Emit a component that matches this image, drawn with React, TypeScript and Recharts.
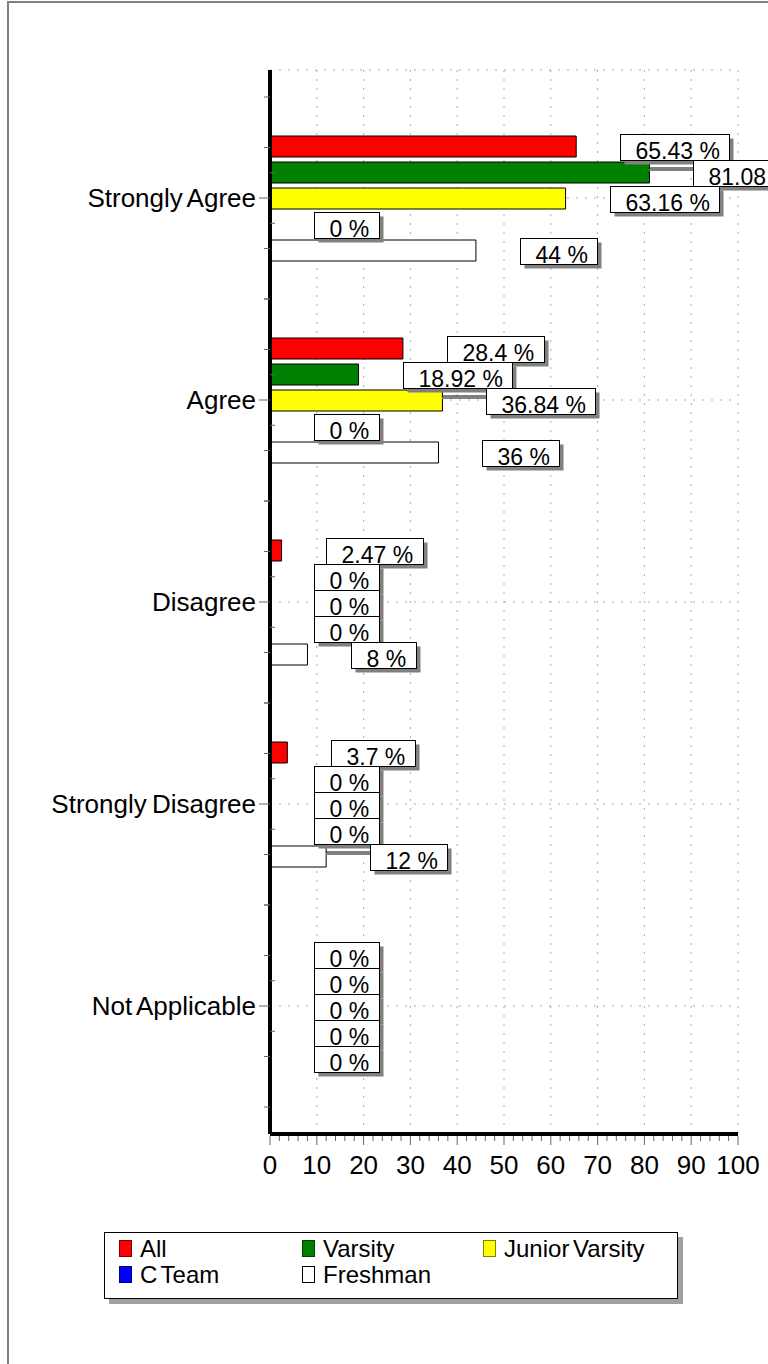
import { BarChart, Bar, XAxis, YAxis, CartesianGrid, LabelList } from 'recharts';

const categories = ['Strongly Agree', 'Agree', 'Disagree', 'Strongly Disagree', 'Not Applicable'];
const allValues = [65.43, 28.4, 2.47, 3.7, 0];
const varsityValues = [81.08, 18.92, 0, 0, 0];
const juniorVarsityValues = [63.16, 36.84, 0, 0, 0];
const cTeamValues = [0, 0, 0, 0, 0];
const freshmanValues = [44, 36, 8, 12, 0];
const xTickLabels = [0, 10, 20, 30, 40, 50, 60, 70, 80, 90, 100];
const xDomain = [0, 100];

// labels that got a leader line from the bar end in the original
const leaderLabels = ['Varsity|Strongly Agree', 'Junior Varsity|Agree', 'Freshman|Strongly Disagree'];

const series = [
  { key: 'All', label: 'All', values: allValues, color: '#ff0000', edge: '#800000' },
  { key: 'Varsity', label: 'Varsity', values: varsityValues, color: '#008000', edge: '#004000' },
  { key: 'Junior Varsity', label: 'Junior Varsity', values: juniorVarsityValues, color: '#ffff00', edge: '#808000' },
  { key: 'C Team', label: 'C Team', values: cTeamValues, color: '#0000ff', edge: '#000080' },
  { key: 'Freshman', label: 'Freshman', values: freshmanValues, color: '#ffffff', edge: '#000000' },
];

const data = categories.map((name, i) => {
  const row: Record<string, any> = { name };
  series.forEach((s) => (row[s.key] = s.values[i]));
  return row;
});

// minor ticks every 2 units between the labelled ones
const xAxisTicks = xTickLabels.flatMap((t, i) => (i === 0 ? [t] : [t - 8, t - 6, t - 4, t - 2, t]));

const FONT = "'Liberation Sans', Arial, sans-serif";
const LABEL_FONT = `23px ${FONT}`;

let ctx: CanvasRenderingContext2D | null = null;
function textWidth(s: string, font: string) {
  if (!ctx) ctx = document.createElement('canvas').getContext('2d');
  if (!ctx) return s.length * 12;
  ctx.font = font;
  return ctx.measureText(s).width;
}

// grid only on the labelled ticks, not on the minor ones
const gridX = ({ xAxis, offset }: any) => {
  const sc = xAxis && xAxis.scale;
  if (typeof sc === 'function') return xTickLabels.map((v) => sc(v));
  if (sc && typeof sc.map === 'function') return xTickLabels.map((v) => sc.map(v));
  const left = offset ? offset.left : 270;
  const width = offset ? offset.width : 468;
  return xTickLabels.map((v) => left + ((v - xDomain[0]) / (xDomain[1] - xDomain[0])) * width);
};

const XTick = (props: any) => {
  const { x, y, payload } = props;
  const major = payload.value % 10 === 0;
  return (
    <g>
      <line x1={x} x2={x} y1={y + 2} y2={y + (major ? 11 : 7)} stroke="#666" />
      {major && (
        <text x={x} y={y + 40} textAnchor="middle" fontSize={26} fontFamily={FONT} fill="#000">
          {payload.value}
        </text>
      )}
    </g>
  );
};

const YTick = (props: any) => {
  const { x, y, payload } = props;
  const q = (payload.offset || 101) / 2;
  return (
    <g>
      <line x1={x - 11} x2={x} y1={y} y2={y} stroke="#666" />
      {[-2, -1, 1, 2].map((k) => (
        <line key={k} x1={x - 6} x2={x} y1={y + k * q} y2={y + k * q} stroke="#666" />
      ))}
      {[-1, 1].map((k) => (
        <line key={'i' + k} x1={x} x2={x + 5} y1={y + (k * q) / 2} y2={y + (k * q) / 2} stroke="#666" />
      ))}
      <text
        x={x - 14}
        y={y}
        dy="0.36em"
        textAnchor="end"
        fontSize={26}
        fontFamily={FONT}
        fill="#000"
        style={{ wordSpacing: '-2px' }}
      >
        {payload.value}
      </text>
    </g>
  );
};

const makeLabel = (key: string) => (props: any) => {
  const vb = props.viewBox || props;
  const x = Number(vb.x);
  const y = Number(vb.y);
  const w = Number(vb.width) || 0;
  const h = Number(vb.height) || 21;
  const txt = `${props.value} %`;
  const end = x + Math.round(w);
  const bx = Math.round(end + 44) + 0.5;
  const by = Math.round(y + h / 2 - 13) + 0.5;
  const bw = Math.round(textWidth(txt, LABEL_FONT) + 25);
  const lead = leaderLabels.includes(`${key}|${categories[props.index]}`);
  return (
    <g>
      {lead && (
        <g>
          <line x1={end} x2={bx} y1={y + 8} y2={y + 8} stroke="#808080" strokeWidth={2} />
          <line x1={end} x2={bx} y1={y + 6} y2={y + 6} stroke="#000" />
        </g>
      )}
      <rect x={bx + 4} y={by + 4} width={bw} height={26} fill="#808080" />
      <rect x={bx} y={by} width={bw} height={26} fill="#fff" stroke="#000" />
      <text x={bx + 15} y={by + 24} fontSize={23} fontFamily={FONT} fill="#000">
        {txt}
      </text>
    </g>
  );
};

function ChartLegend() {
  const cols = [14, 197, 378];
  return (
    <div
      style={{
        position: 'absolute',
        left: 104,
        top: 1232,
        width: 572,
        height: 65,
        border: '1px solid #000',
        background: '#fff',
        boxShadow: '5px 5px 0 #a0a0a0',
        fontFamily: FONT,
        fontSize: 24,
      }}
    >
      {series.map((s, i) => {
        const left = cols[i % 3];
        const top = i < 3 ? 7 : 33;
        return (
          <div key={s.key} style={{ position: 'absolute', left, top, height: 17, whiteSpace: 'nowrap' }}>
            <div
              style={{
                position: 'absolute',
                left: 0,
                top: 0,
                width: 11,
                height: 15,
                background: s.color,
                border: `1px solid ${s.edge}`,
              }}
            />
            <div
              style={{
                position: 'absolute',
                left: 21,
                top: -5,
                lineHeight: '27px',
                color: '#000',
                wordSpacing: '-3px',
              }}
            >
              {s.label}
            </div>
          </div>
        );
      })}
    </div>
  );
}

export default function App() {
  return (
    <div
      style={{
        position: 'absolute',
        left: 0,
        top: 0,
        width: 768,
        height: 1364,
        overflow: 'hidden',
        background: '#fff',
      }}
    >
      <div
        style={{
          position: 'absolute',
          left: 7,
          top: 1,
          right: -10,
          bottom: -10,
          borderLeft: '2px solid #808080',
          borderTop: '2px solid #808080',
        }}
      />
      <div style={{ position: 'absolute', left: 0, top: 0 }}>
        <BarChart
          width={768}
          height={1364}
          data={data}
          layout="vertical"
          margin={{ top: 70, right: 30, left: 8, bottom: 180 }}
          barGap={5}
        >
          <CartesianGrid stroke="#aaa" strokeDasharray="2 7" verticalCoordinatesGenerator={gridX} />
          {series.map((s) => (
            <Bar
              key={s.key}
              dataKey={s.key}
              fill={s.color}
              stroke="#000"
              strokeWidth={1}
              barSize={21}
              minPointSize={0.01}
              isAnimationActive={false}
            >
              <LabelList dataKey={s.key} content={makeLabel(s.key)} />
            </Bar>
          ))}
          <XAxis
            xAxisId="top"
            orientation="top"
            type="number"
            domain={xDomain}
            height={0}
            tick={false}
            tickLine={false}
            axisLine={{ stroke: '#666', strokeWidth: 1 }}
          />
          <YAxis
            yAxisId="right"
            orientation="right"
            type="category"
            dataKey="name"
            width={0}
            tick={false}
            tickLine={false}
            axisLine={{ stroke: '#666', strokeWidth: 1 }}
          />
          <XAxis
            type="number"
            domain={xDomain}
            ticks={xAxisTicks}
            interval={0}
            height={50}
            tickSize={0}
            tickMargin={0}
            tickLine={false}
            tick={<XTick />}
            axisLine={{ stroke: '#000', strokeWidth: 4 }}
          />
          <YAxis
            type="category"
            dataKey="name"
            width={262}
            padding={{ top: 27, bottom: 27 }}
            tickSize={0}
            tickMargin={0}
            tickLine={false}
            interval={0}
            tick={<YTick />}
            axisLine={{ stroke: '#000', strokeWidth: 4 }}
          />
        </BarChart>
      </div>
      <ChartLegend />
    </div>
  );
}
